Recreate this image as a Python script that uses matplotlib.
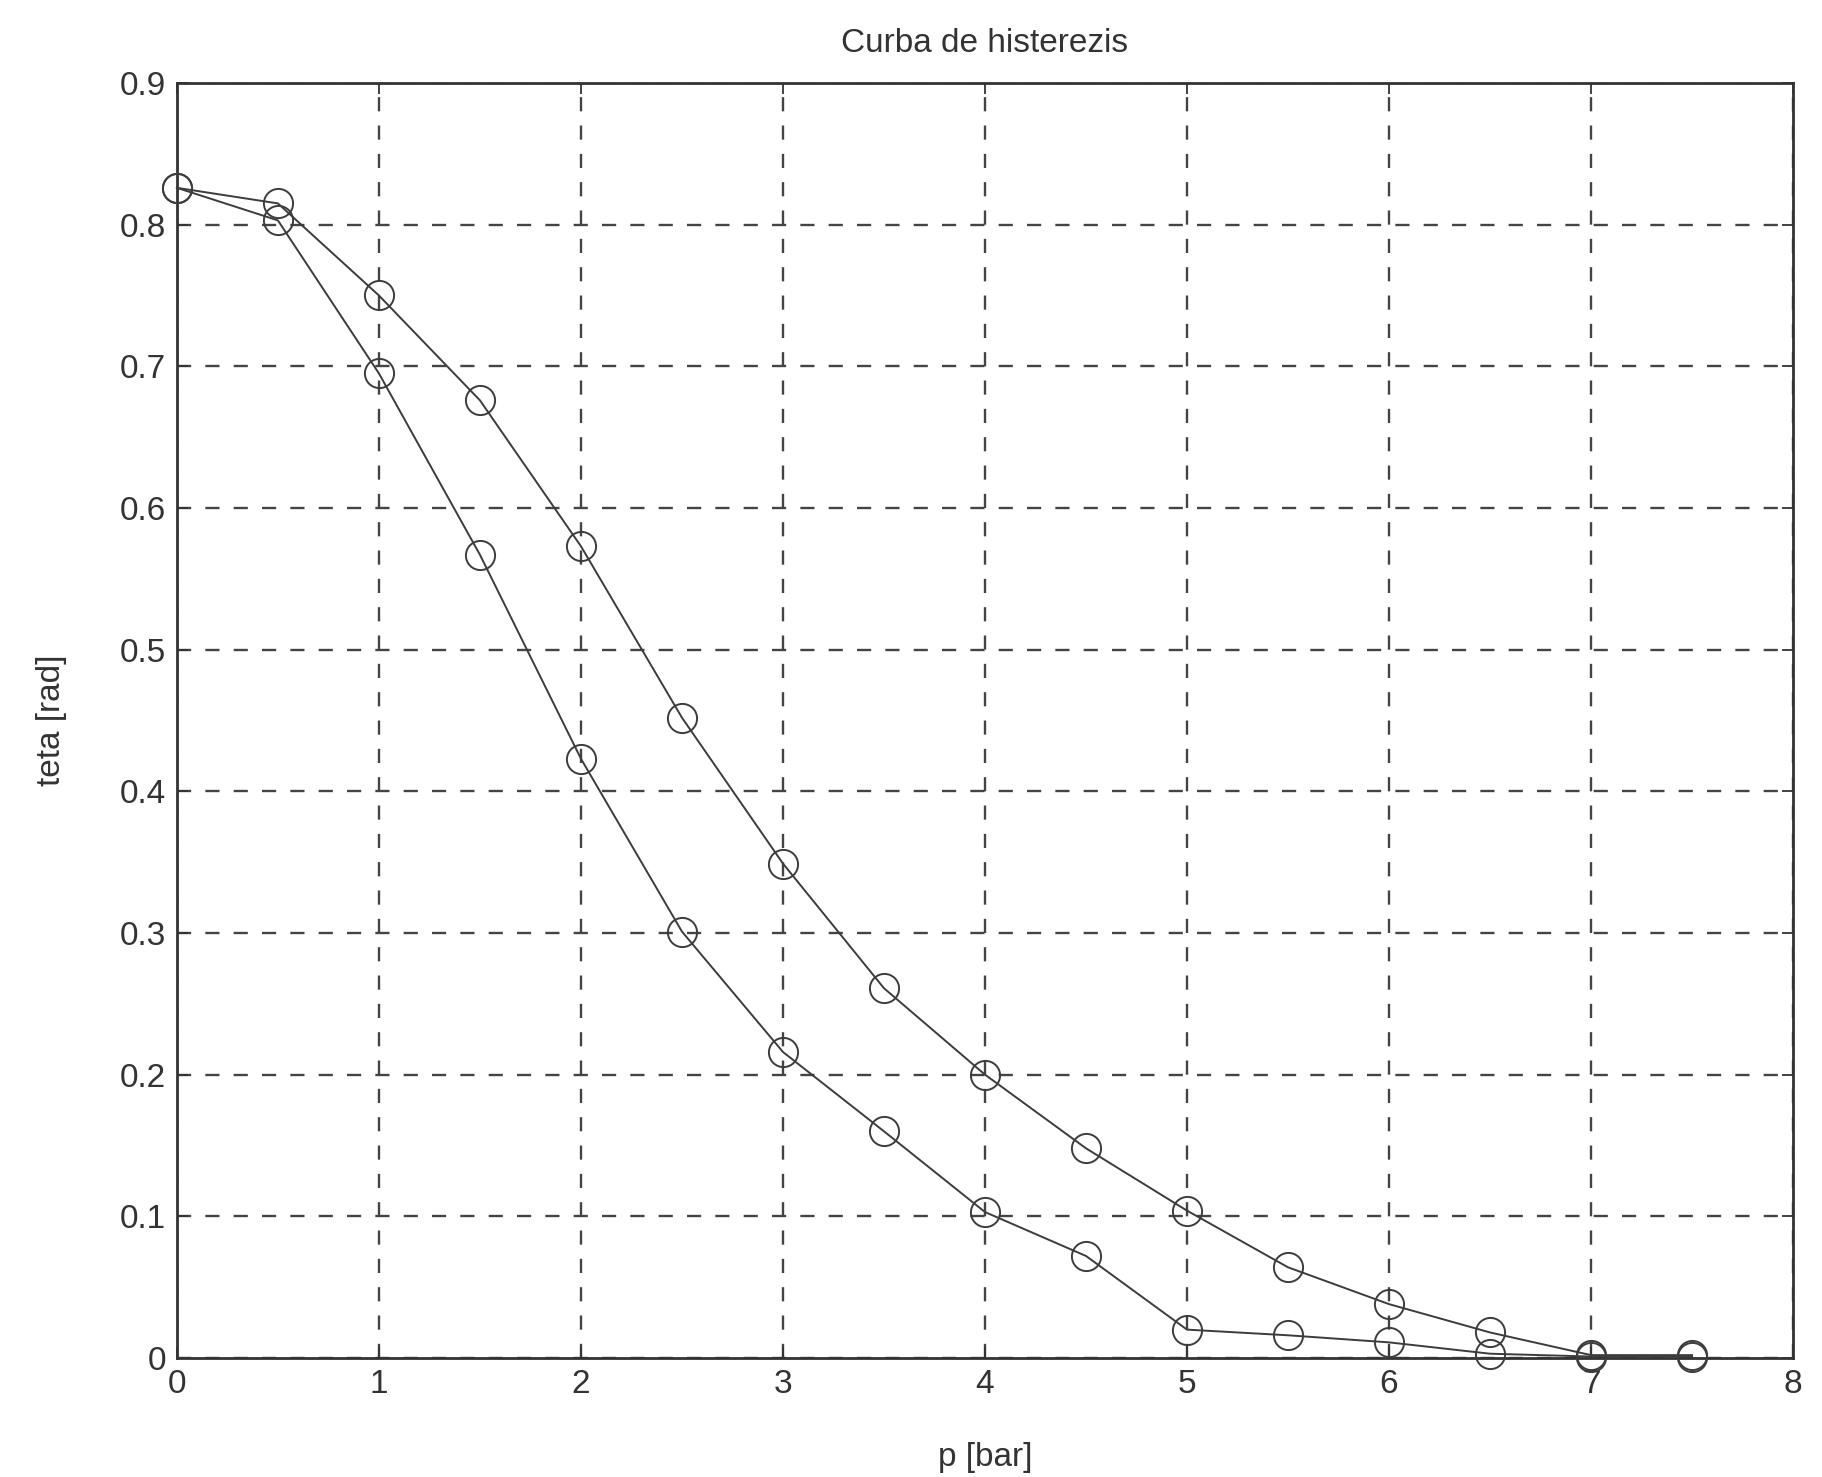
import numpy as np
import matplotlib.pyplot as plt

plt.rcParams['font.family'] = ['Liberation Sans', 'DejaVu Sans']

# pressure steps [bar]
p = [0, 0.5, 1, 1.5, 2, 2.5, 3, 3.5, 4, 4.5, 5, 5.5, 6, 6.5, 7, 7.5]

# upper branch
teta_up = [0.826, 0.815, 0.750, 0.676, 0.573, 0.452, 0.349, 0.261, 0.200,
           0.148, 0.104, 0.064, 0.038, 0.018, 0.002, 0.002]
# lower branch
teta_down = [0.826, 0.803, 0.695, 0.567, 0.423, 0.301, 0.216, 0.160, 0.103,
             0.072, 0.020, 0.016, 0.011, 0.003, 0.001, 0.001]

fig = plt.figure(figsize=(18.22, 14.77), dpi=100)
ax = fig.add_axes([0.0971, 0.0806, 0.8870, 0.8632])

col = '#3c3c3c'
ax.plot(p, teta_up, '-o', color=col, lw=1.4, ms=21, mfc='none', mew=1.4, clip_on=False, zorder=3)
ax.plot(p, teta_down, '-o', color=col, lw=1.4, ms=21, mfc='none', mew=1.4, clip_on=False, zorder=3)

ax.set_xlim(0, 8)
ax.set_ylim(0, 0.9)
ax.set_xticks(np.arange(0, 9, 1))
ax.set_yticks(np.arange(0, 0.91, 0.1))
ax.set_yticklabels(['0', '0.1', '0.2', '0.3', '0.4', '0.5', '0.6', '0.7', '0.8', '0.9'])
ax.grid(True, ls=(0, (6, 6)), color='#444444', lw=1.7)
ax.tick_params(direction='in', length=8, width=1.3, labelsize=24, colors='#333333',
               top=True, right=True, pad=8)
for s in ax.spines.values():
    s.set_color('#333333')
    s.set_linewidth(2)

ax.set_title('Curba de histerezis', fontsize=24, color='#333333', pad=22)
ax.set_xlabel('p [bar]', fontsize=24, color='#333333', labelpad=30)
ax.set_ylabel('teta [rad]', fontsize=24, color='#333333', labelpad=38)

fig.savefig('out.png', dpi=100)
